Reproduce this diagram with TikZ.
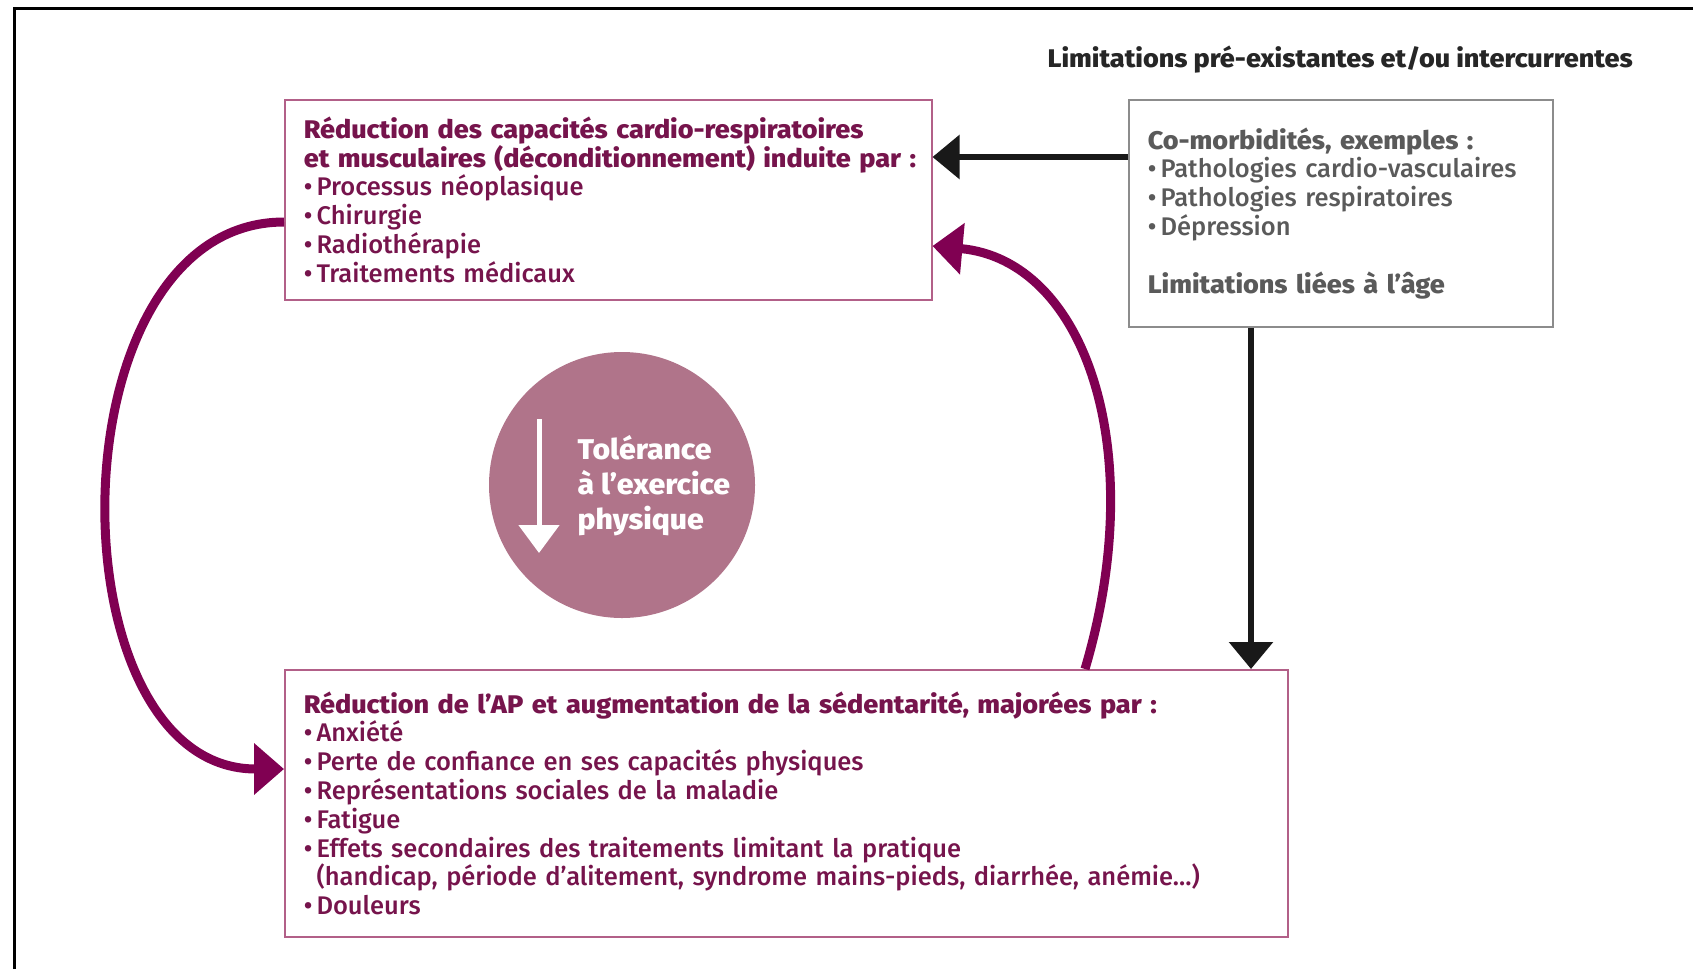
\documentclass[tikz,border=0pt]{standalone}
\usepackage{fontspec}
\setmainfont{Fira Sans}[UprightFont={* Medium},BoldFont={* ExtraBold},
  BoldFeatures={FakeStretch=1.06}]
\usetikzlibrary{arrows.meta,positioning}
\definecolor{plum}{RGB}{118,20,76}
\definecolor{wine}{RGB}{128,0,82}
\definecolor{mauve}{RGB}{176,116,138}
\definecolor{boxline}{RGB}{178,96,136}
\definecolor{greytext}{RGB}{90,90,90}
\definecolor{greyline}{RGB}{140,140,140}
\newcommand{\itm}{\textbullet\,}

\begin{document}
\begin{tikzpicture}[x=1pt,y=-1pt,semithick,
    txt/.style={font=\fontsize{25.5}{28.8}\selectfont},
    box/.style={draw=boxline,line width=1.5pt,anchor=north west,inner xsep=19pt,
                align=left,text=plum,txt},
    loop/.style={draw=wine,line width=9pt,-{Triangle[length=30pt,width=50pt]}},
    feed/.style={draw=black!90,line width=6pt,-{Triangle[length=27pt,width=43pt]}}]
  \useasboundingbox (0,0) rectangle (1693,969);
  \draw[line width=3pt] (14,969) -- (14,8) -- (1693,8);

  \node[box,text width=609pt,minimum height=200pt] (top) at (284,99)
    {\mbox{\textbf{Réduction des capacités cardio-respiratoires}}\\
     \mbox{\textbf{et musculaires (déconditionnement) induite par :}}\\
     \itm Processus néoplasique\\
     \itm Chirurgie\\
     \itm Radiothérapie\\
     \itm Traitements médicaux};
  \node[box,text width=965pt,minimum height=267pt] (low) at (284,669)
    {\textbf{Réduction de l’AP et augmentation de la sédentarité, majorées par :}\\
     \itm Anxiété\\
     \itm Perte de confiance en ses capacités physiques\\
     \itm Représentations sociales de la maladie\\
     \itm Fatigue\\
     \itm Effets secondaires des traitements limitant la pratique\\
     \phantom{\itm}(handicap, période d’alitement, syndrome mains-pieds, diarrhée, anémie…)\\
     \itm Douleurs};
  \node[box,draw=greyline,text=greytext,text width=386pt,minimum height=227pt] (gray) at (1128,99)
    {\textbf{Co-morbidités, exemples :}\\
     \itm Pathologies cardio-vasculaires\\
     \itm Pathologies respiratoires\\
     \itm Dépression\\[28.8pt]
     \textbf{Limitations liées à l’âge}};
  \node[anchor=west,txt,text=black!85] (title) at (1044,60)
    {\textbf{Limitations pré-existantes et/ou intercurrentes}};

  % tolerance circle
  \node[circle,fill=mauve,minimum size=266pt,inner sep=0pt] (tol) at (622,485) {};
  \node[anchor=west,align=left,text=white,font=\bfseries\fontsize{28.5}{35}\selectfont]
    (toltxt) at (574,486) {Tolérance\\à l’exercice\\physique};
  \coordinate (wa) at (539,419);
  \coordinate (wb) at (539,553);
  \draw[white,line width=5pt,-{Triangle[length=28pt,width=40pt]}] (wa) -- (wb);

  % loop between the two boxes
  \coordinate (lt) at (284,222);
  \coordinate (lb) at (284,769);
  \coordinate (rb) at (1085,669);
  \coordinate (rt) at (931,246);
  \path[loop] (top.west |- lt) .. controls (50,222) and (50,769) .. (low.west |- lb);
  \path[loop] (low.north -| rb) .. controls (1150,450) and (1085,260) .. (top.east |- rt);

  % limitations
  \coordinate (hz) at (0,157);
  \coordinate (vx) at (1251,0);
  \path[feed] (gray.west |- hz) -- (top.east |- hz);
  \path[feed] (gray.south -| vx) -- (low.north -| vx);
\end{tikzpicture}
\end{document}
